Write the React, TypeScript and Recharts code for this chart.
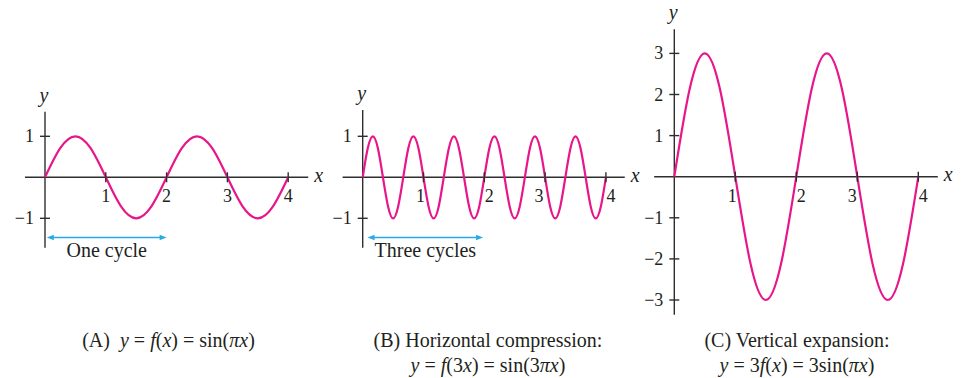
import React from 'react';
import { LineChart, Line, XAxis, YAxis, ReferenceLine, ReferenceDot } from 'recharts';

// points, every eighth of a cycle
const xQuarter = [0, 0.25, 0.5, 0.75, 1, 1.25, 1.5, 1.75, 2, 2.25, 2.5, 2.75, 3, 3.25, 3.5, 3.75, 4];
const curveA = [0, 0.71, 1, 0.71, 0, -0.71, -1, -0.71, 0, 0.71, 1, 0.71, 0, -0.71, -1, -0.71, 0];
const curveC = [0, 2.12, 3, 2.12, 0, -2.12, -3, -2.12, 0, 2.12, 3, 2.12, 0, -2.12, -3, -2.12, 0];

const xTwelfth = [
  0, 0.083, 0.167, 0.25, 0.333, 0.417, 0.5, 0.583, 0.667, 0.75, 0.833, 0.917,
  1, 1.083, 1.167, 1.25, 1.333, 1.417, 1.5, 1.583, 1.667, 1.75, 1.833, 1.917,
  2, 2.083, 2.167, 2.25, 2.333, 2.417, 2.5, 2.583, 2.667, 2.75, 2.833, 2.917,
  3, 3.083, 3.167, 3.25, 3.333, 3.417, 3.5, 3.583, 3.667, 3.75, 3.833, 3.917, 4,
];
const curveB = [
  0, 0.71, 1, 0.71, 0, -0.71, -1, -0.71, 0, 0.71, 1, 0.71,
  0, -0.71, -1, -0.71, 0, 0.71, 1, 0.71, 0, -0.71, -1, -0.71,
  0, 0.71, 1, 0.71, 0, -0.71, -1, -0.71, 0, 0.71, 1, 0.71,
  0, -0.71, -1, -0.71, 0, 0.71, 1, 0.71, 0, -0.71, -1, -0.71, 0,
];

const xTicks = [1, 2, 3, 4];
const unitTicks = [1, -1];
const tripleTicks = [3, 2, 1, -1, -2, -3];

const CURVE = '#e8168b';
const AXIS = '#2e2e2e';
const INK = '#231f20';
const ARROW = '#29abe2';
const SERIF = '"Liberation Serif", FreeSerif, serif';
const H = 320;

const toRows = (xs: number[], ys: number[]) => xs.map((x, i) => ({ x, y: ys[i] }));

const fmt = (v: number) => (v < 0 ? '\u2212' + Math.abs(v) : String(v));

function Arrow(s: any) {
  const { x1, x2, y1, label } = s;
  return (
    <g>
      <line x1={x1 + 5} x2={x2 - 5} y1={y1} y2={y1} stroke={ARROW} strokeWidth={1.6} />
      <polygon points={`${x1},${y1} ${x1 + 7},${y1 - 2.8} ${x1 + 7},${y1 + 2.8}`} fill={ARROW} />
      <polygon points={`${x2},${y1} ${x2 - 7},${y1 - 2.8} ${x2 - 7},${y1 + 2.8}`} fill={ARROW} />
      <text x={(x1 + x2) / 2} y={y1 + 19} textAnchor="middle" style={{ fontFamily: SERIF, fontSize: 20 }} fill={INK}>
        {label}
      </text>
    </g>
  );
}

type PanelProps = {
  left: number; width: number; ox: number; oy: number; ux: number; uy: number;
  xAxis: number[]; yAxis: number[]; yTicks: number[]; nudge: number[];
  rows: { x: number; y: number }[];
  arrow?: { from: number; to: number; y: number; label: string };
};

const num = { fontFamily: SERIF, fontSize: 18 };
const ital = { fontFamily: SERIF, fontSize: 20, fontStyle: 'italic' };

function Panel(p: PanelProps) {
  const xDomain = [(p.left - p.ox) / p.ux, (p.left + p.width - p.ox) / p.ux];
  const yDomain = [(p.oy - H) / p.uy, p.oy / p.uy];
  return (
    <div style={{ position: 'absolute', left: p.left, top: 0 }}>
      <LineChart width={p.width} height={H} data={p.rows} margin={{ top: 0, right: 0, bottom: 0, left: 0 }}>
        <XAxis type="number" dataKey="x" domain={xDomain} hide allowDataOverflow />
        <YAxis type="number" domain={yDomain} hide allowDataOverflow />
        <ReferenceLine segment={[{ x: p.xAxis[0], y: 0 }, { x: p.xAxis[1], y: 0 }]} stroke={AXIS} strokeWidth={1.4} />
        <ReferenceLine segment={[{ x: 0, y: p.yAxis[0] }, { x: 0, y: p.yAxis[1] }]} stroke={AXIS} strokeWidth={1.4} />
        {/* axis names */}
        <ReferenceDot x={p.xAxis[1]} y={0} r={0} shape={(s: any) => (
          <text x={s.cx + 6} y={s.cy + 4.5} style={ital} fill={INK}>x</text>
        )} />
        <ReferenceDot x={0} y={p.yAxis[1]} r={0} shape={(s: any) => (
          <text x={s.cx - 1} y={s.cy - 10} textAnchor="middle" style={ital} fill={INK}>y</text>
        )} />
        {xTicks.map((t, i) => (
          <ReferenceDot key={'x' + t} x={t} y={0} r={0} shape={(s: any) => (
            <g>
              <line x1={s.cx} x2={s.cx} y1={s.cy - 5} y2={s.cy + 5} stroke={AXIS} strokeWidth={1.4} />
              <text x={s.cx + p.nudge[i]} y={s.cy + 25} textAnchor="middle" style={num} fill={INK}>{fmt(t)}</text>
            </g>
          )} />
        ))}
        {p.yTicks.map((t) => (
          <ReferenceDot key={'y' + t} x={0} y={t} r={0} shape={(s: any) => (
            <g>
              <line x1={s.cx - 5} x2={s.cx + 5} y1={s.cy} y2={s.cy} stroke={AXIS} strokeWidth={1.4} />
              <text x={s.cx - 11} y={s.cy + 6} textAnchor="end" style={num} fill={INK}>{fmt(t)}</text>
            </g>
          )} />
        ))}
        {p.arrow && (
          <ReferenceLine
            segment={[{ x: p.arrow.from, y: p.arrow.y }, { x: p.arrow.to, y: p.arrow.y }]}
            shape={(s: any) => <Arrow {...s} label={p.arrow!.label} />}
          />
        )}
        <Line dataKey="y" type="natural" stroke={CURVE} strokeWidth={2.2} dot={false} activeDot={false} isAnimationActive={false} />
      </LineChart>
    </div>
  );
}

const capStyle = (center: number): React.CSSProperties => ({
  position: 'absolute', left: center - 160, width: 320, top: 328, textAlign: 'center',
  fontFamily: SERIF, fontSize: 20, lineHeight: '25px', color: INK, whiteSpace: 'nowrap',
});

const I = (t: string) => <i>{t}</i>;

export default function App() {
  return (
    <div style={{ position: 'absolute', left: 0, top: 0, width: 962, height: 378, background: '#fff', overflow: 'hidden', fontFamily: SERIF }}>
      <Panel left={0} width={330} ox={45} oy={177.3} ux={60.8} uy={41}
        xAxis={[-0.33, 4.33]} yAxis={[-1.72, 1.6]} yTicks={unitTicks} nudge={[0, 0, 0, 0]}
        rows={toRows(xQuarter, curveA)} arrow={{ from: 0.03, to: 2.0, y: -1.47, label: 'One cycle' }} />
      <Panel left={326} width={324} ox={362.7} oy={177.3} ux={60.8} uy={41}
        xAxis={[-0.33, 4.31]} yAxis={[-1.72, 1.64]} yTicks={unitTicks} nudge={[-3, 5, -6, 5]}
        rows={toRows(xTwelfth, curveB)} arrow={{ from: 0.08, to: 1.98, y: -1.47, label: 'Three cycles' }} />
      <Panel left={632} width={330} ox={674.3} oy={176.7} ux={61} uy={41.1}
        xAxis={[-0.33, 4.32]} yAxis={[-3.36, 3.59]} yTicks={tripleTicks} nudge={[-3, 5, -5, 5]}
        rows={toRows(xQuarter, curveC)} />

      <div style={capStyle(168.5)}>
        (A){'\u00a0\u00a0'}{I('y')} = {I('f')}({I('x')}) = sin({I('πx')})
      </div>
      <div style={capStyle(488)}>
        (B) Horizontal compression:<br />
        {I('y')} = {I('f')}(3{I('x')}) = sin(3{I('πx')})
      </div>
      <div style={capStyle(797)}>
        (C) Vertical expansion:<br />
        {I('y')} = 3{I('f')}({I('x')}) = 3sin({I('πx')})
      </div>
    </div>
  );
}
